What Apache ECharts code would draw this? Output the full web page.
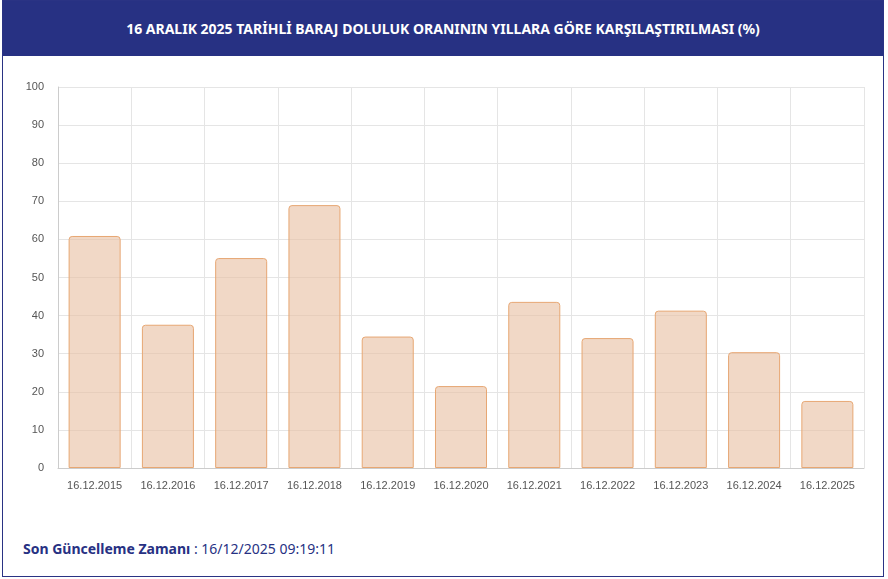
<!DOCTYPE html>
<html><head><meta charset="utf-8">
<script src="https://cdn.jsdelivr.net/npm/echarts@6/dist/echarts.min.js"></script>
<style>
html,body{margin:0;padding:0;background:#fff;font-family:"Noto Sans",sans-serif;}
#card{position:absolute;left:2px;top:0;width:882px;height:577px;border:1px solid #2a3384;box-sizing:border-box;}
#head{height:55px;background:#273183;color:#fff;font-weight:bold;font-size:14px;text-align:center;line-height:55px;}
#chart{position:absolute;left:0;top:55px;width:880px;height:460px;}
#foot{position:absolute;left:20px;top:538px;font-size:14px;color:#273183;}
</style></head><body>
<div id="card">
<div id="head">16 ARALIK 2025 TARİHLİ BARAJ DOLULUK ORANININ YILLARA GÖRE KARŞILAŞTIRILMASI (%)</div>
<div id="chart"></div>
<div id="foot"><b>Son Güncelleme Zamanı</b> : 16/12/2025 09:19:11</div>
</div>
<script>
const categories = ["16.12.2015","16.12.2016","16.12.2017","16.12.2018","16.12.2019","16.12.2020","16.12.2021","16.12.2022","16.12.2023","16.12.2024","16.12.2025"];
const values = [60.9, 37.6, 55.1, 69.0, 34.5, 21.5, 43.6, 34.1, 41.3, 30.4, 17.6];

const chart = echarts.init(document.getElementById("chart"));
chart.setOption({
  animation: false,
  grid: { left: 55, right: 19, top: 31, bottom: 48 },
  xAxis: {
    type: "category", data: categories,
    axisLine: { lineStyle: { color: "#ccc" } },
    axisTick: { show: false },
    axisLabel: { color: "#555", fontSize: 11, fontFamily: "Liberation Sans", margin: 12 },
    splitLine: { show: true, lineStyle: { color: "#e5e5e5" } }
  },
  yAxis: {
    type: "value", min: 0, max: 100, interval: 10,
    axisLine: { show: true, lineStyle: { color: "#ccc" } },
    axisLabel: { color: "#555", fontSize: 11, fontFamily: "Liberation Sans", margin: 14 },
    splitLine: { lineStyle: { color: "#e5e5e5" } }
  },
  series: [{
    type: "bar", data: values, barWidth: "71%",
    itemStyle: { color: "rgba(232,190,160,0.6)", borderColor: "#e7a773", borderWidth: 1, borderRadius: [3,3,0,0] }
  }]
});
</script>
</body></html>
